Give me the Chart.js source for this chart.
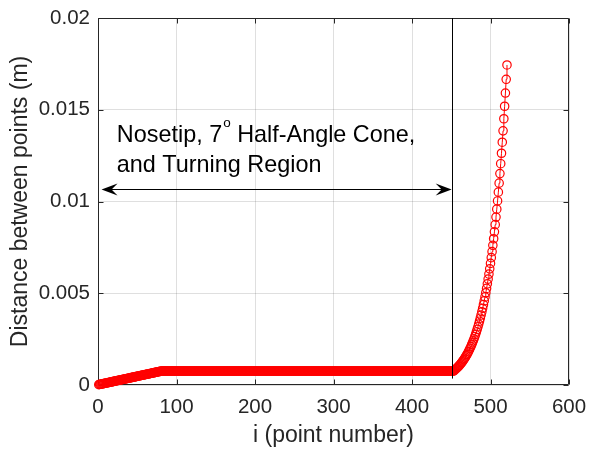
<!DOCTYPE html>
<html>
<head>
<meta charset="utf-8">
<script src="https://cdn.jsdelivr.net/npm/chart.js@4/dist/chart.umd.min.js"></script>
<style>
  html, body { margin: 0; padding: 0; background: #ffffff; }
  #wrap { width: 589px; height: 449px; }
</style>
</head>
<body>
<div id="wrap"><canvas id="c" width="589" height="449"></canvas></div>
<script>
// Spacing between consecutive surface points (m), by point number i = 1..521.

// Nosetip: spacing grows linearly, i = 1..81
const rampDist = [
  0.0000200, 0.0000293, 0.0000385, 0.0000478, 0.0000570, 0.0000663, 0.0000755, 0.0000848, 0.0000940, 0.0001033,
  0.0001125, 0.0001218, 0.0001310, 0.0001403, 0.0001495, 0.0001588, 0.0001680, 0.0001773, 0.0001865, 0.0001958,
  0.0002050, 0.0002143, 0.0002235, 0.0002328, 0.0002420, 0.0002513, 0.0002605, 0.0002698, 0.0002790, 0.0002883,
  0.0002975, 0.0003068, 0.0003160, 0.0003253, 0.0003345, 0.0003438, 0.0003530, 0.0003623, 0.0003715, 0.0003808,
  0.0003900, 0.0003993, 0.0004085, 0.0004178, 0.0004270, 0.0004363, 0.0004455, 0.0004548, 0.0004640, 0.0004733,
  0.0004825, 0.0004918, 0.0005010, 0.0005103, 0.0005195, 0.0005288, 0.0005380, 0.0005473, 0.0005565, 0.0005658,
  0.0005750, 0.0005843, 0.0005935, 0.0006028, 0.0006120, 0.0006213, 0.0006305, 0.0006398, 0.0006490, 0.0006583,
  0.0006675, 0.0006768, 0.0006860, 0.0006953, 0.0007045, 0.0007138, 0.0007230, 0.0007323, 0.0007415, 0.0007508,
  0.0007600
];

// Cone and turning region: uniform spacing, i = 82..452
const coneDist = [
  0.00076, 0.00076, 0.00076, 0.00076, 0.00076, 0.00076, 0.00076, 0.00076, 0.00076, 0.00076, 0.00076, 0.00076, 0.00076, 0.00076, 0.00076, 0.00076, 0.00076, 0.00076, 0.00076, 0.00076,
  0.00076, 0.00076, 0.00076, 0.00076, 0.00076, 0.00076, 0.00076, 0.00076, 0.00076, 0.00076, 0.00076, 0.00076, 0.00076, 0.00076, 0.00076, 0.00076, 0.00076, 0.00076, 0.00076, 0.00076,
  0.00076, 0.00076, 0.00076, 0.00076, 0.00076, 0.00076, 0.00076, 0.00076, 0.00076, 0.00076, 0.00076, 0.00076, 0.00076, 0.00076, 0.00076, 0.00076, 0.00076, 0.00076, 0.00076, 0.00076,
  0.00076, 0.00076, 0.00076, 0.00076, 0.00076, 0.00076, 0.00076, 0.00076, 0.00076, 0.00076, 0.00076, 0.00076, 0.00076, 0.00076, 0.00076, 0.00076, 0.00076, 0.00076, 0.00076, 0.00076,
  0.00076, 0.00076, 0.00076, 0.00076, 0.00076, 0.00076, 0.00076, 0.00076, 0.00076, 0.00076, 0.00076, 0.00076, 0.00076, 0.00076, 0.00076, 0.00076, 0.00076, 0.00076, 0.00076, 0.00076,
  0.00076, 0.00076, 0.00076, 0.00076, 0.00076, 0.00076, 0.00076, 0.00076, 0.00076, 0.00076, 0.00076, 0.00076, 0.00076, 0.00076, 0.00076, 0.00076, 0.00076, 0.00076, 0.00076, 0.00076,
  0.00076, 0.00076, 0.00076, 0.00076, 0.00076, 0.00076, 0.00076, 0.00076, 0.00076, 0.00076, 0.00076, 0.00076, 0.00076, 0.00076, 0.00076, 0.00076, 0.00076, 0.00076, 0.00076, 0.00076,
  0.00076, 0.00076, 0.00076, 0.00076, 0.00076, 0.00076, 0.00076, 0.00076, 0.00076, 0.00076, 0.00076, 0.00076, 0.00076, 0.00076, 0.00076, 0.00076, 0.00076, 0.00076, 0.00076, 0.00076,
  0.00076, 0.00076, 0.00076, 0.00076, 0.00076, 0.00076, 0.00076, 0.00076, 0.00076, 0.00076, 0.00076, 0.00076, 0.00076, 0.00076, 0.00076, 0.00076, 0.00076, 0.00076, 0.00076, 0.00076,
  0.00076, 0.00076, 0.00076, 0.00076, 0.00076, 0.00076, 0.00076, 0.00076, 0.00076, 0.00076, 0.00076, 0.00076, 0.00076, 0.00076, 0.00076, 0.00076, 0.00076, 0.00076, 0.00076, 0.00076,
  0.00076, 0.00076, 0.00076, 0.00076, 0.00076, 0.00076, 0.00076, 0.00076, 0.00076, 0.00076, 0.00076, 0.00076, 0.00076, 0.00076, 0.00076, 0.00076, 0.00076, 0.00076, 0.00076, 0.00076,
  0.00076, 0.00076, 0.00076, 0.00076, 0.00076, 0.00076, 0.00076, 0.00076, 0.00076, 0.00076, 0.00076, 0.00076, 0.00076, 0.00076, 0.00076, 0.00076, 0.00076, 0.00076, 0.00076, 0.00076,
  0.00076, 0.00076, 0.00076, 0.00076, 0.00076, 0.00076, 0.00076, 0.00076, 0.00076, 0.00076, 0.00076, 0.00076, 0.00076, 0.00076, 0.00076, 0.00076, 0.00076, 0.00076, 0.00076, 0.00076,
  0.00076, 0.00076, 0.00076, 0.00076, 0.00076, 0.00076, 0.00076, 0.00076, 0.00076, 0.00076, 0.00076, 0.00076, 0.00076, 0.00076, 0.00076, 0.00076, 0.00076, 0.00076, 0.00076, 0.00076,
  0.00076, 0.00076, 0.00076, 0.00076, 0.00076, 0.00076, 0.00076, 0.00076, 0.00076, 0.00076, 0.00076, 0.00076, 0.00076, 0.00076, 0.00076, 0.00076, 0.00076, 0.00076, 0.00076, 0.00076,
  0.00076, 0.00076, 0.00076, 0.00076, 0.00076, 0.00076, 0.00076, 0.00076, 0.00076, 0.00076, 0.00076, 0.00076, 0.00076, 0.00076, 0.00076, 0.00076, 0.00076, 0.00076, 0.00076, 0.00076,
  0.00076, 0.00076, 0.00076, 0.00076, 0.00076, 0.00076, 0.00076, 0.00076, 0.00076, 0.00076, 0.00076, 0.00076, 0.00076, 0.00076, 0.00076, 0.00076, 0.00076, 0.00076, 0.00076, 0.00076,
  0.00076, 0.00076, 0.00076, 0.00076, 0.00076, 0.00076, 0.00076, 0.00076, 0.00076, 0.00076, 0.00076, 0.00076, 0.00076, 0.00076, 0.00076, 0.00076, 0.00076, 0.00076, 0.00076, 0.00076,
  0.00076, 0.00076, 0.00076, 0.00076, 0.00076, 0.00076, 0.00076, 0.00076, 0.00076, 0.00076, 0.00076
];

// Afterbody: spacing stretched towards the outflow, i = 453..521
const stretchDist = [
  0.000760, 0.000796, 0.000833, 0.000873, 0.000914, 0.000957, 0.001002, 0.001049, 0.001099, 0.001151,
  0.001205, 0.001262, 0.001321, 0.001383, 0.001449, 0.001517, 0.001589, 0.001663, 0.001742, 0.001824,
  0.001910, 0.002000, 0.002094, 0.002193, 0.002297, 0.002405, 0.002518, 0.002637, 0.002761, 0.002892,
  0.003028, 0.003171, 0.003320, 0.003477, 0.003641, 0.003813, 0.003992, 0.004181, 0.004378, 0.004584,
  0.004800, 0.005027, 0.005264, 0.005512, 0.005772, 0.006044, 0.006329, 0.006628, 0.006940, 0.007267,
  0.007610, 0.007969, 0.008345, 0.008738, 0.009150, 0.009582, 0.01003, 0.01051, 0.01100, 0.01152,
  0.01206, 0.01263, 0.01323, 0.01385, 0.01451, 0.01519, 0.01591, 0.01666, 0.01744
];

const xTickLabels = ['0', '100', '200', '300', '400', '500', '600'];
const yTickLabels = ['0', '0.005', '0.01', '0.015', '0.02'];

const distance = rampDist.concat(coneDist, stretchDist);
const points = distance.map((d, k) => ({ x: k + 1, y: d }));

const FONT = "'Liberation Sans', Arial, Helvetica, sans-serif";
const AXIS_COLOR = '#262626';

// Region marker, dimension arrow and label, in data coordinates
const regionNote = {
  boundaryX: 451, boundaryFrom: 0.00035, boundaryTo: 0.02,
  arrowFrom: 4.5, arrowTo: 450.5, arrowY: 0.0107,
  textX: 24, line1Y: 0.01325, line2Y: 0.01161
};

const crispX = v => Math.round(v) + 0.5;

const axesBox = {
  id: 'axesBox',
  beforeDatasetsDraw(chart) {
    const { ctx, chartArea: a, scales: { x, y } } = chart;
    const L = crispX(a.left), R = crispX(a.right) - 1, T = crispX(a.top), B = crispX(a.bottom) - 1;
    ctx.save();
    ctx.strokeStyle = AXIS_COLOR;
    ctx.lineWidth = 1;
    ctx.beginPath();
    ctx.rect(L, T, R - L, B - T);
    const tl = 5;
    x.ticks.forEach(t => {
      const px = crispX(x.getPixelForValue(t.value));
      ctx.moveTo(px, B); ctx.lineTo(px, B - tl);
      ctx.moveTo(px, T); ctx.lineTo(px, T + tl);
    });
    y.ticks.forEach(t => {
      const py = crispX(y.getPixelForValue(t.value));
      ctx.moveTo(L, py); ctx.lineTo(L + tl, py);
      ctx.moveTo(R, py); ctx.lineTo(R - tl, py);
    });
    ctx.stroke();
    ctx.restore();
  }
};

function arrowHead(ctx, px, py, dir) {
  const len = 16, half = 6, notch = 10;
  ctx.beginPath();
  ctx.moveTo(px, py);
  ctx.lineTo(px - dir * len, py - half);
  ctx.lineTo(px - dir * notch, py);
  ctx.lineTo(px - dir * len, py + half);
  ctx.closePath();
  ctx.fill();
}

const regionPlugin = {
  id: 'regionNote',
  afterDatasetsDraw(chart) {
    const { ctx, scales: { x, y } } = chart;
    const n = regionNote;
    ctx.save();
    // boundary of the nosetip/cone/turning region
    const bx = crispX(x.getPixelForValue(n.boundaryX));
    ctx.strokeStyle = '#000000';
    ctx.lineWidth = 1;
    ctx.beginPath();
    ctx.moveTo(bx, y.getPixelForValue(n.boundaryTo));
    ctx.lineTo(bx, y.getPixelForValue(n.boundaryFrom));
    ctx.stroke();

    // double-headed dimension arrow
    const ay = crispX(y.getPixelForValue(n.arrowY));
    const ax0 = x.getPixelForValue(n.arrowFrom), ax1 = x.getPixelForValue(n.arrowTo);
    ctx.beginPath();
    ctx.moveTo(ax0 + 6, ay);
    ctx.lineTo(ax1 - 6, ay);
    ctx.stroke();
    ctx.fillStyle = '#000000';
    arrowHead(ctx, ax0, ay, -1);
    arrowHead(ctx, ax1, ay, 1);

    // label with superscript degree letter
    const tx = x.getPixelForValue(n.textX);
    const b1 = y.getPixelForValue(n.line1Y), b2 = y.getPixelForValue(n.line2Y);
    ctx.textBaseline = 'alphabetic';
    ctx.textAlign = 'left';
    ctx.font = '23.4px ' + FONT;
    const partA = 'Nosetip, 7';
    ctx.fillText(partA, tx, b1);
    let cx = tx + ctx.measureText(partA).width + 1;
    ctx.font = '13.5px ' + FONT;
    ctx.fillText('o', cx, b1 - 15);
    cx += ctx.measureText('o').width;
    ctx.font = '23.4px ' + FONT;
    ctx.fillText(' Half-Angle Cone,', cx, b1);
    ctx.fillText('and Turning Region', tx, b2);
    ctx.restore();
  }
};

new Chart(document.getElementById('c'), {
  type: 'line',
  data: {
    datasets: [{
      data: points,
      borderColor: '#ff0000',
      borderWidth: 1,
      pointStyle: 'circle',
      pointRadius: 4.2,
      pointBorderWidth: 1.2,
      pointBorderColor: '#ff0000',
      pointBackgroundColor: 'rgba(0,0,0,0)',
      fill: false,
      tension: 0,
      clip: false
    }]
  },
  options: {
    responsive: false,
    animation: false,
    devicePixelRatio: 1,
    layout: { padding: { top: 18, right: 20, left: 0, bottom: 0 } },
    plugins: { legend: { display: false }, tooltip: { enabled: false } },
    scales: {
      x: {
        type: 'linear',
        min: 0, max: 600,
        afterFit: s => { s.height = 64; s.paddingLeft = 0; s.paddingRight = 0; },
        afterBuildTicks: s => { s.ticks = xTickLabels.map(v => ({ value: Number(v) })); },
        ticks: {
          callback: (v, i) => xTickLabels[i],
          color: AXIS_COLOR,
          font: { family: FONT, size: 20.5 },
          padding: 10,
          maxRotation: 0,
          autoSkip: false
        },
        grid: { color: 'rgba(38,38,38,0.15)', drawTicks: false, lineWidth: 1 },
        border: { display: false },
        title: {
          display: true,
          text: 'i (point number)',
          color: AXIS_COLOR,
          font: { family: FONT, size: 23 },
          padding: { top: 0, bottom: 0 }
        }
      },
      y: {
        type: 'linear',
        min: 0, max: 0.02,
        afterFit: s => { s.width = 98; s.paddingTop = 0; s.paddingBottom = 0; },
        afterBuildTicks: s => { s.ticks = yTickLabels.map(v => ({ value: Number(v) })); },
        ticks: {
          callback: (v, i) => yTickLabels[i],
          color: AXIS_COLOR,
          font: { family: FONT, size: 20.5 },
          padding: 8,
          autoSkip: false
        },
        grid: { color: 'rgba(38,38,38,0.15)', drawTicks: false, lineWidth: 1 },
        border: { display: false },
        title: {
          display: true,
          text: 'Distance between points (m)',
          color: AXIS_COLOR,
          font: { family: FONT, size: 23 },
          padding: { top: 7, bottom: 0 }
        }
      }
    }
  },
  plugins: [axesBox, regionPlugin]
});
</script>
</body>
</html>
